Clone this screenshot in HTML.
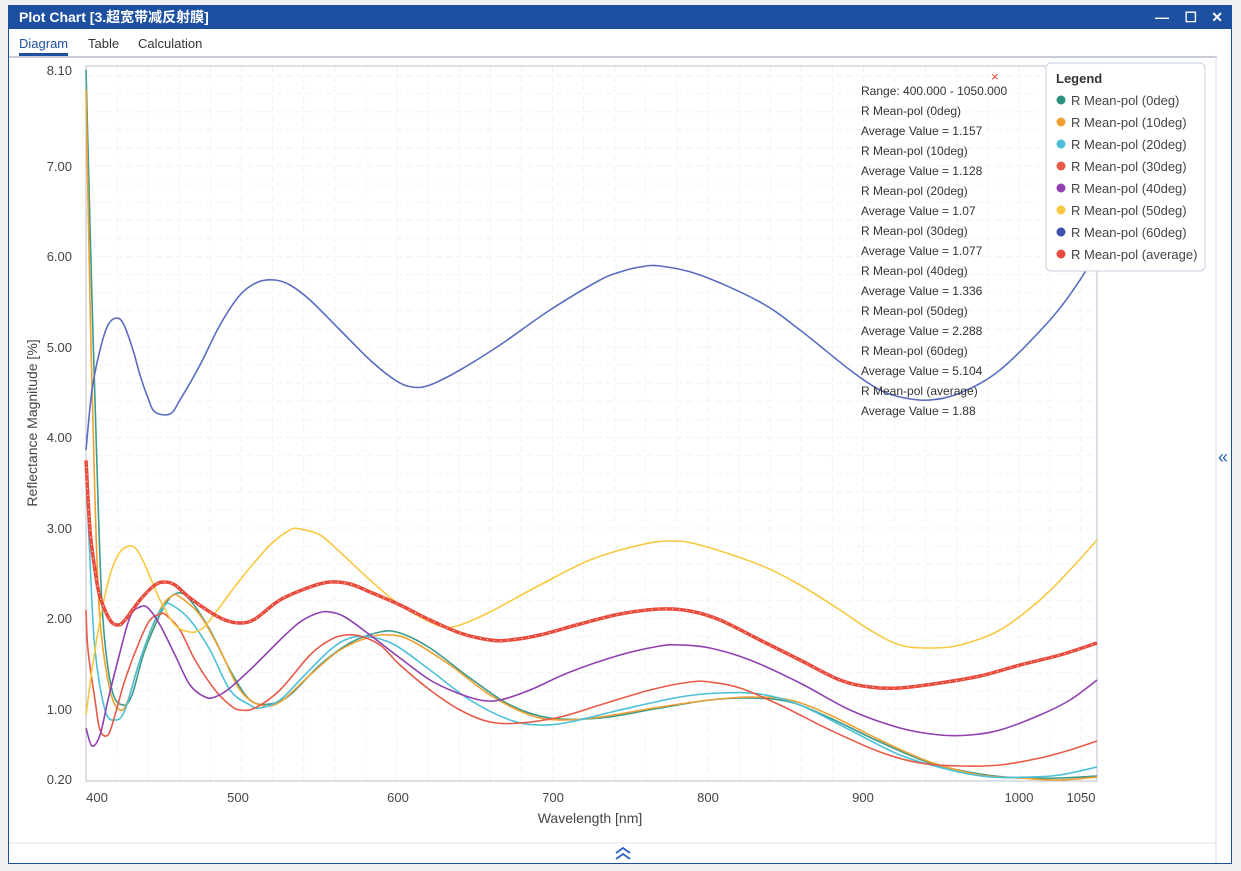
<!DOCTYPE html>
<html><head><meta charset="utf-8"><style>
body{margin:0;width:1241px;height:871px;background:#f0f0f0;font-family:"Liberation Sans","Noto Sans CJK SC",sans-serif;overflow:hidden;position:relative}
.win{position:absolute;left:8px;top:5px;width:1224px;height:859px;background:#fff;border:1px solid #1e50a2;box-sizing:border-box}
.title{position:absolute;left:0;top:0;width:100%;height:23px;background:#1e50a2;color:#fff;font-weight:bold;font-size:14px;line-height:23px;padding-left:10px;box-sizing:border-box}
.tabs{position:absolute;left:0;top:23px;width:1208px;height:27px;border-bottom:2px solid #c8ccd4;font-size:13px;color:#333}
.tabs span{position:absolute;top:7px}
svg{position:absolute;left:0;top:0}
</style></head><body>
<div class="win">
<div class="title">Plot Chart [3.超宽带减反射膜]
<span style="position:absolute;right:62px;top:0">—</span><span style="position:absolute;right:34px;top:0">☐</span><span style="position:absolute;right:8px;top:0">✕</span></div>
<div class="tabs"><span style="left:10px;color:#1e50a2">Diagram</span><div style="position:absolute;left:10px;top:24px;width:49px;height:3px;background:#1e50a2"></div><span style="left:79px">Table</span><span style="left:129px">Calculation</span></div>
</div>
<svg width="1241" height="871" id="s" font-family="Liberation Sans, sans-serif">
<line x1="1216" y1="55" x2="1216" y2="863" stroke="#dde" />
<line x1="9" y1="843" x2="1216" y2="843" stroke="#e4e6ea"/>
<text x="1218" y="463" font-size="18" fill="#2a62c8">«</text>
<path d="M616,853 l7,-5 l7,5 M616,859 l7,-5 l7,5" stroke="#2a62c8" stroke-width="1.8" fill="none"/>
<g id="grid"></g>
<rect x="86" y="66" width="1011" height="715" fill="none" stroke="#b8c0cc"/>
<g id="ax" font-size="13" fill="#444"></g>
<text x="590" y="823" font-size="14" fill="#444" text-anchor="middle">Wavelength [nm]</text>
<text x="37" y="423" font-size="14" fill="#444" text-anchor="middle" transform="rotate(-90 37 423)">Reflectance Magnitude [%]</text>
<g id="cur" fill="none"></g>
<g font-size="12" fill="#333" id="st"></g>
<text x="991" y="81" font-size="13" fill="#e04030">×</text>
<rect x="1046" y="63" width="159" height="208" rx="5" fill="#fff" fill-opacity="0.95" stroke="#c8d0dc"/>
<text x="1056" y="83" font-size="13" font-weight="bold" fill="#333">Legend</text>
<g id="lg" font-size="13" fill="#444"></g>
</svg>
<script>
var ns="http://www.w3.org/2000/svg";
function el(p,t,a,txt){var e=document.createElementNS(ns,t);for(var k in a)e.setAttribute(k,a[k]);if(txt)e.textContent=txt;document.getElementById(p).appendChild(e);return e;}
for(var x=86+31.1;x<1097;x+=31.1)el("grid","line",{x1:x,y1:66,x2:x,y2:781,stroke:"#f2f2f2","stroke-dasharray":"6,4"});
for(var y=709;y>66;y-=18.1)el("grid","line",{x1:86,y1:y,x2:1097,y2:y,stroke:"#f2f2f2","stroke-dasharray":"6,4"});
var xt=[[400,97],[500,238],[600,398],[700,553],[800,708],[900,863],[1000,1019],[1050,1081]];
xt.forEach(function(t){el("ax","text",{x:t[1],y:802,"text-anchor":"middle"},String(t[0]));});
var yt=["8.10",70,"7.00",166,"6.00",256,"5.00",347,"4.00",437,"3.00",528,"2.00",618,"1.00",709,"0.20",779];
for(var i=0;i<yt.length;i+=2)el("ax","text",{x:72,y:yt[i+1]+5,"text-anchor":"end"},yt[i]);
function path(p){var d="M"+p[0][0]+","+p[0][1];for(var i=0;i<p.length-1;i++){var p0=p[i-1]||p[i],p1=p[i],p2=p[i+1],p3=p[i+2]||p2;
d+=" C"+(p1[0]+(p2[0]-p0[0])/6)+","+(p1[1]+(p2[1]-p0[1])/6)+" "+(p2[0]-(p3[0]-p1[0])/6)+","+(p2[1]-(p3[1]-p1[1])/6)+" "+p2[0]+","+p2[1];}return d;}
var C={
blue:[[86,450],[92,390],[100,350],[108,325],[117,318],[124,325],[133,350],[140,375],[148,398],[155,412],[170,414],[180,400],[200,365],[220,325],[240,295],[258,282],[275,280],[290,285],[310,300],[340,330],[370,360],[395,380],[412,387],[430,385],[460,370],[500,345],[550,310],[600,280],[620,272],[640,267],[660,266],[700,275],[760,302],[800,330],[850,370],[880,390],[905,398],[930,400],[960,393],[1000,370],[1050,320],[1080,280],[1097,250]],
yel:[[86,715],[92,670],[100,620],[110,575],[120,552],[130,546],[137,550],[145,565],[160,600],[175,625],[190,632],[200,630],[210,620],[240,580],[270,545],[290,530],[300,529],[320,535],[340,552],[370,580],[400,605],[430,622],[445,627],[460,625],[490,612],[540,585],[590,560],[640,545],[670,541],[700,545],[760,565],[800,585],[840,610],[870,630],[900,645],[930,648],[960,645],[1000,630],[1040,600],[1070,570],[1097,540]],
pur:[[86,728],[92,746],[100,735],[108,700],[118,660],[130,617],[140,607],[148,608],[160,625],[175,655],[190,685],[205,697],[215,697],[230,688],[255,665],[280,640],[300,622],[318,613],[330,612],[345,617],[370,635],[400,658],[430,680],[455,692],[480,700],[500,700],[530,690],[570,672],[620,655],[660,646],[680,645],[710,648],[750,660],[800,683],[850,710],[900,728],[940,735],[970,735],[1000,730],[1040,715],[1070,700],[1097,680]],
red:[[86,610],[88,650],[95,700],[100,730],[108,735],[115,715],[125,680],[140,640],[150,620],[160,614],[166,615],[180,630],[195,660],[215,690],[230,705],[240,710],[255,708],[280,690],[310,655],[330,640],[345,635],[360,636],[380,645],[400,665],[430,690],[460,710],[490,722],[520,723],[560,717],[600,705],[650,690],[690,682],[710,682],[740,688],[780,705],[830,730],[880,752],[920,763],[960,766],[1000,765],[1040,758],[1070,750],[1097,741]],
cyan:[[86,470],[90,560],[95,650],[105,710],[115,720],[125,710],[140,660],[155,620],[165,605],[172,605],[190,620],[210,650],[230,690],[250,705],[260,708],[280,700],[300,680],[330,650],[350,638],[370,637],[395,645],[430,670],[470,700],[510,720],[540,725],[570,722],[620,710],[680,697],[720,693],[760,694],[800,705],[850,730],[900,755],[950,770],[990,777],[1030,777],[1060,775],[1097,767]],
ora:[[86,90],[90,300],[95,500],[100,620],[110,690],[120,710],[128,700],[140,660],[160,610],[172,596],[180,597],[200,615],[220,650],[240,690],[260,705],[280,702],[310,675],[340,650],[370,637],[390,635],[410,640],[450,665],[490,695],[530,715],[560,720],[600,717],[660,707],[710,700],[750,697],[790,700],[830,715],[880,740],[930,762],[980,775],[1020,778],[1060,780],[1097,777]],
teal:[[86,70],[92,300],[98,500],[103,620],[112,690],[123,705],[132,695],[145,650],[165,605],[178,593],[190,600],[210,630],[230,670],[250,700],[270,704],[290,695],[320,665],[350,643],[380,632],[400,633],[430,648],[470,678],[510,705],[550,718],[600,718],[660,708],[710,700],[750,698],[790,702],[830,718],[880,742],[930,763],[980,774],[1020,778],[1060,778],[1097,776]],
avg:[[86,460],[90,530],[95,570],[100,597],[110,620],[118,625],[125,620],[140,600],[155,585],[165,582],[175,585],[190,598],[210,612],[225,620],[240,623],[255,619],[280,600],[310,587],[330,582],[350,584],[370,592],[400,605],[430,620],[460,633],[490,640],[510,640],[540,635],[580,624],[620,614],[660,609],[690,611],[720,620],[760,640],[800,660],[840,680],[870,687],[900,688],[940,683],[980,676],[1020,665],[1060,655],[1097,643]]};
var st=[["teal","#3a9a8c"],["ora","#f0a030"],["cyan","#4cc0d8"],["red","#e85a48"],["pur","#9040b0"],["yel","#f8c840"],["blue","#5a6cc0"]];
st.forEach(function(s){el("cur","path",{d:path(C[s[0]]),stroke:s[1],"stroke-width":1.6});});
el("cur","path",{d:path(C.avg),stroke:"#e84c3d","stroke-width":3.5});
el("cur","path",{d:path(C.avg),stroke:"#fff","stroke-width":1,"stroke-dasharray":"1,6"});
var lines=["Range: 400.000 - 1050.000","R Mean-pol (0deg)","Average Value = 1.157","R Mean-pol (10deg)","Average Value = 1.128","R Mean-pol (20deg)","Average Value = 1.07","R Mean-pol (30deg)","Average Value = 1.077","R Mean-pol (40deg)","Average Value = 1.336","R Mean-pol (50deg)","Average Value = 2.288","R Mean-pol (60deg)","Average Value = 5.104","R Mean-pol (average)","Average Value = 1.88"];
lines.forEach(function(t,i){el("st","text",{x:861,y:95+20*i},t);});
var lc=["#2e9080","#f0a030","#4cc0d8","#e85a48","#9040b0","#f8c840","#3a50b0","#e84c3d"],ln=["0deg","10deg","20deg","30deg","40deg","50deg","60deg","average"];
lc.forEach(function(c,i){var y=100+22*i;el("lg","circle",{cx:1061,cy:y,r:4.5,fill:c});el("lg","text",{x:1071,y:y+5},"R Mean-pol ("+ln[i]+")");});
</script>
</body></html>
